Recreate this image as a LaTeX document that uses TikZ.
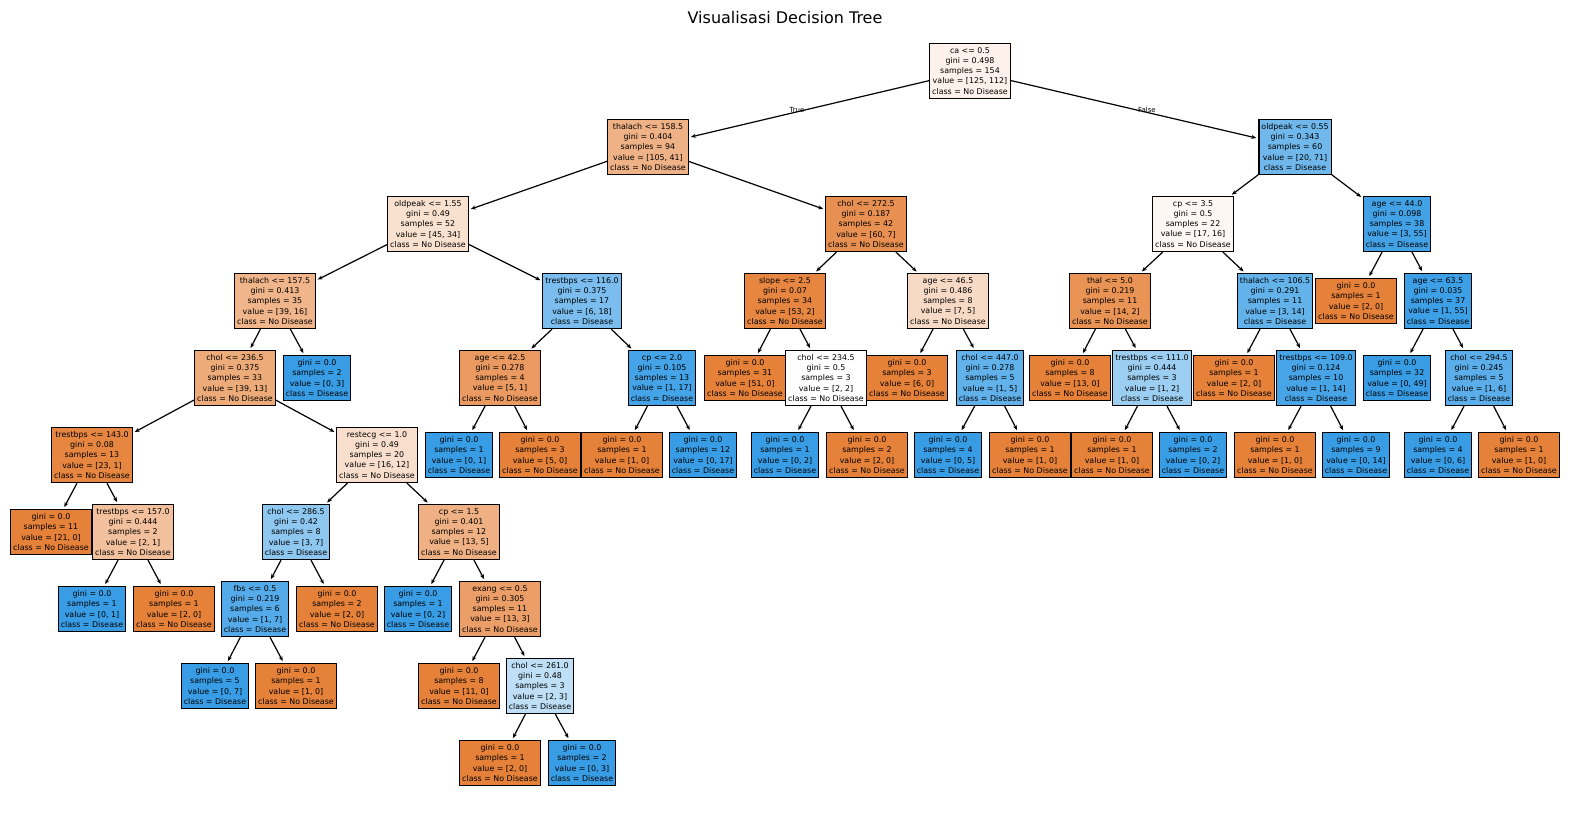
\documentclass[tikz,border=0pt]{standalone}
\usepackage{fontspec}
\setmainfont{DejaVu Sans}
\usetikzlibrary{arrows.meta}
\definecolor{noDis}{RGB}{229,129,57}
\definecolor{yesDis}{RGB}{57,157,229}

\begin{document}
\begin{tikzpicture}[x=1pt,y=-1pt,
  box/.style={draw, line width=1.2pt, align=center, inner xsep=2.5pt, inner ysep=4.3pt, font=\fontsize{7.9}{10.1}\selectfont},
  nd/.style={box, fill=noDis!#1!white},
  ds/.style={box, fill=yesDis!#1!white},
  arr/.style={line width=1.2pt, -{Stealth[length=5pt,width=4pt]}, shorten >=2pt},
  lbl/.style={font=\fontsize{7}{8}\selectfont, inner sep=1pt}]
\useasboundingbox (0,0) rectangle (1570,812);
\node[font=\fontsize{16}{19}\selectfont] (title) at (785,18) {Visualisasi Decision Tree};

\node[nd=10] (n0) at (970,71) {ca <= 0.5\\gini = 0.498\\samples = 154\\value = [125, 112]\\class = No Disease};
\node[nd=61] (n1) at (648,147) {thalach <= 158.5\\gini = 0.404\\samples = 94\\value = [105, 41]\\class = No Disease};
\node[nd=24] (n2) at (428,224) {oldpeak <= 1.55\\gini = 0.49\\samples = 52\\value = [45, 34]\\class = No Disease};
\node[nd=59] (n3) at (275,301) {thalach <= 157.5\\gini = 0.413\\samples = 35\\value = [39, 16]\\class = No Disease};
\node[nd=67] (n4) at (235,378) {chol <= 236.5\\gini = 0.375\\samples = 33\\value = [39, 13]\\class = No Disease};
\node[nd=96] (n5) at (92,455) {trestbps <= 143.0\\gini = 0.08\\samples = 13\\value = [23, 1]\\class = No Disease};
\node[nd=100] (n6) at (51,532) {gini = 0.0\\samples = 11\\value = [21, 0]\\class = No Disease};
\node[nd=50] (n7) at (133,532) {trestbps <= 157.0\\gini = 0.444\\samples = 2\\value = [2, 1]\\class = No Disease};
\node[ds=100] (n8) at (92,609) {gini = 0.0\\samples = 1\\value = [0, 1]\\class = Disease};
\node[nd=100] (n9) at (174,609) {gini = 0.0\\samples = 1\\value = [2, 0]\\class = No Disease};
\node[nd=25] (n10) at (377,455) {restecg <= 1.0\\gini = 0.49\\samples = 20\\value = [16, 12]\\class = No Disease};
\node[ds=57] (n11) at (296,532) {chol <= 286.5\\gini = 0.42\\samples = 8\\value = [3, 7]\\class = Disease};
\node[ds=86] (n12) at (255,609) {fbs <= 0.5\\gini = 0.219\\samples = 6\\value = [1, 7]\\class = Disease};
\node[ds=100] (n13) at (215,686) {gini = 0.0\\samples = 5\\value = [0, 7]\\class = Disease};
\node[nd=100] (n14) at (296,686) {gini = 0.0\\samples = 1\\value = [1, 0]\\class = No Disease};
\node[nd=100] (n15) at (337,609) {gini = 0.0\\samples = 2\\value = [2, 0]\\class = No Disease};
\node[nd=62] (n16) at (459,532) {cp <= 1.5\\gini = 0.401\\samples = 12\\value = [13, 5]\\class = No Disease};
\node[ds=100] (n17) at (418,609) {gini = 0.0\\samples = 1\\value = [0, 2]\\class = Disease};
\node[nd=77] (n18) at (500,609) {exang <= 0.5\\gini = 0.305\\samples = 11\\value = [13, 3]\\class = No Disease};
\node[nd=100] (n19) at (459,686) {gini = 0.0\\samples = 8\\value = [11, 0]\\class = No Disease};
\node[ds=33] (n20) at (540,686) {chol <= 261.0\\gini = 0.48\\samples = 3\\value = [2, 3]\\class = Disease};
\node[nd=100] (n21) at (500,763) {gini = 0.0\\samples = 1\\value = [2, 0]\\class = No Disease};
\node[ds=100] (n22) at (582,763) {gini = 0.0\\samples = 2\\value = [0, 3]\\class = Disease};
\node[ds=100] (n23) at (317,378) {gini = 0.0\\samples = 2\\value = [0, 3]\\class = Disease};
\node[ds=67] (n24) at (582,301) {trestbps <= 116.0\\gini = 0.375\\samples = 17\\value = [6, 18]\\class = Disease};
\node[nd=80] (n25) at (500,378) {age <= 42.5\\gini = 0.278\\samples = 4\\value = [5, 1]\\class = No Disease};
\node[ds=100] (n26) at (459,455) {gini = 0.0\\samples = 1\\value = [0, 1]\\class = Disease};
\node[nd=100] (n27) at (540,455) {gini = 0.0\\samples = 3\\value = [5, 0]\\class = No Disease};
\node[ds=94] (n28) at (662,378) {cp <= 2.0\\gini = 0.105\\samples = 13\\value = [1, 17]\\class = Disease};
\node[nd=100] (n29) at (622,455) {gini = 0.0\\samples = 1\\value = [1, 0]\\class = No Disease};
\node[ds=100] (n30) at (703,455) {gini = 0.0\\samples = 12\\value = [0, 17]\\class = Disease};
\node[nd=88] (n31) at (866,224) {chol <= 272.5\\gini = 0.187\\samples = 42\\value = [60, 7]\\class = No Disease};
\node[nd=96] (n32) at (785,301) {slope <= 2.5\\gini = 0.07\\samples = 34\\value = [53, 2]\\class = No Disease};
\node[nd=100] (n33) at (745,378) {gini = 0.0\\samples = 31\\value = [51, 0]\\class = No Disease};
\node[nd=0] (n34) at (826,378) {chol <= 234.5\\gini = 0.5\\samples = 3\\value = [2, 2]\\class = No Disease};
\node[ds=100] (n35) at (785,455) {gini = 0.0\\samples = 1\\value = [0, 2]\\class = Disease};
\node[nd=100] (n36) at (867,455) {gini = 0.0\\samples = 2\\value = [2, 0]\\class = No Disease};
\node[nd=29] (n37) at (948,301) {age <= 46.5\\gini = 0.486\\samples = 8\\value = [7, 5]\\class = No Disease};
\node[nd=100] (n38) at (907,378) {gini = 0.0\\samples = 3\\value = [6, 0]\\class = No Disease};
\node[ds=80] (n39) at (990,378) {chol <= 447.0\\gini = 0.278\\samples = 5\\value = [1, 5]\\class = Disease};
\node[ds=100] (n40) at (948,455) {gini = 0.0\\samples = 4\\value = [0, 5]\\class = Disease};
\node[nd=100] (n41) at (1030,455) {gini = 0.0\\samples = 1\\value = [1, 0]\\class = No Disease};
\node[ds=72] (n42) at (1295,147) {oldpeak <= 0.55\\gini = 0.343\\samples = 60\\value = [20, 71]\\class = Disease};
\node[nd=6] (n43) at (1193,224) {cp <= 3.5\\gini = 0.5\\samples = 22\\value = [17, 16]\\class = No Disease};
\node[nd=86] (n44) at (1110,301) {thal <= 5.0\\gini = 0.219\\samples = 11\\value = [14, 2]\\class = No Disease};
\node[nd=100] (n45) at (1070,378) {gini = 0.0\\samples = 8\\value = [13, 0]\\class = No Disease};
\node[ds=50] (n46) at (1152,378) {trestbps <= 111.0\\gini = 0.444\\samples = 3\\value = [1, 2]\\class = Disease};
\node[nd=100] (n47) at (1112,455) {gini = 0.0\\samples = 1\\value = [1, 0]\\class = No Disease};
\node[ds=100] (n48) at (1193,455) {gini = 0.0\\samples = 2\\value = [0, 2]\\class = Disease};
\node[ds=79] (n49) at (1275,301) {thalach <= 106.5\\gini = 0.291\\samples = 11\\value = [3, 14]\\class = Disease};
\node[nd=100] (n50) at (1234,378) {gini = 0.0\\samples = 1\\value = [2, 0]\\class = No Disease};
\node[ds=93] (n51) at (1316,378) {trestbps <= 109.0\\gini = 0.124\\samples = 10\\value = [1, 14]\\class = Disease};
\node[nd=100] (n52) at (1275,455) {gini = 0.0\\samples = 1\\value = [1, 0]\\class = No Disease};
\node[ds=100] (n53) at (1356,455) {gini = 0.0\\samples = 9\\value = [0, 14]\\class = Disease};
\node[ds=95] (n54) at (1397,224) {age <= 44.0\\gini = 0.098\\samples = 38\\value = [3, 55]\\class = Disease};
\node[nd=100] (n55) at (1356,301) {gini = 0.0\\samples = 1\\value = [2, 0]\\class = No Disease};
\node[ds=98] (n56) at (1438,301) {age <= 63.5\\gini = 0.035\\samples = 37\\value = [1, 55]\\class = Disease};
\node[ds=100] (n57) at (1397,378) {gini = 0.0\\samples = 32\\value = [0, 49]\\class = Disease};
\node[ds=83] (n58) at (1479,378) {chol <= 294.5\\gini = 0.245\\samples = 5\\value = [1, 6]\\class = Disease};
\node[ds=100] (n59) at (1438,455) {gini = 0.0\\samples = 4\\value = [0, 6]\\class = Disease};
\node[nd=100] (n60) at (1519,455) {gini = 0.0\\samples = 1\\value = [1, 0]\\class = No Disease};

\draw[arr] (n0) -- node[lbl, pos=0.55, anchor=south, yshift=-2pt] {True} (n1);
\draw[arr] (n0) -- node[lbl, pos=0.55, anchor=south, yshift=-2pt] {False} (n42);
\foreach \p/\c in {n1/n2, n1/n31, n2/n3, n2/n24, n3/n4, n3/n23, n4/n5, n4/n10,
  n5/n6, n5/n7, n7/n8, n7/n9, n10/n11, n10/n16, n11/n12, n11/n15, n12/n13, n12/n14,
  n16/n17, n16/n18, n18/n19, n18/n20, n20/n21, n20/n22, n24/n25, n24/n28,
  n25/n26, n25/n27, n28/n29, n28/n30, n31/n32, n31/n37, n32/n33, n32/n34,
  n34/n35, n34/n36, n37/n38, n37/n39, n39/n40, n39/n41, n42/n43, n42/n54,
  n43/n44, n43/n49, n44/n45, n44/n46, n46/n47, n46/n48, n49/n50, n49/n51,
  n51/n52, n51/n53, n54/n55, n54/n56, n56/n57, n56/n58, n58/n59, n58/n60}
  \draw[arr] (\p) -- (\c);
\end{tikzpicture}
\end{document}
